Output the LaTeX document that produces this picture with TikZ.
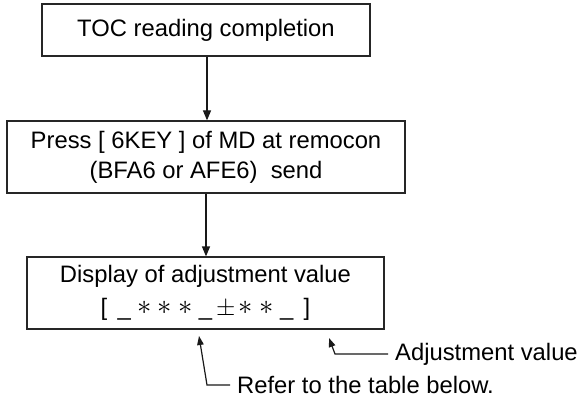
\documentclass[tikz,border=0pt]{standalone}
\usepackage{fontspec}
\usepackage{graphicx}
\setmainfont{Liberation Sans}
\usetikzlibrary{arrows.meta}
\tikzset{
  boxnode/.style={draw=black!85, line width=1.2pt, rectangle, align=center,
    font=\fontsize{23.8}{30}\selectfont, inner sep=0pt},
  flow/.style={draw=black!90, line width=1.2pt, -{Triangle[length=10pt,width=8pt]}},
  leader/.style={draw=black!90, line width=1.2pt, -{Triangle[length=9pt,width=6.5pt]}},
  lbl/.style={font=\fontsize{23.8}{28}\selectfont, inner sep=0pt, anchor=west}
}
\newcommand{\ch}[1]{\makebox[20.3pt][c]{#1}}
\newcommand{\myast}{\smash{\raisebox{1.5pt}{\scalebox{1.15}{$\ast$}}}}
\begin{document}
\begin{tikzpicture}[x=1pt,y=-1pt]
\useasboundingbox (0,0) rectangle (580,403);
\node[boxnode, minimum width=328pt, minimum height=52pt] (b1) at (206,30) {TOC reading completion};
\node[boxnode, minimum width=398pt, minimum height=72pt] (b2) at (206,157)
  {Press [ 6KEY ] of MD at remocon\\(BFA6 or AFE6)\ \ send};
\node[boxnode, minimum width=357pt, minimum height=72pt, font=\fontsize{23.8}{35}\selectfont] (b3) at (205.5,293)
  {Display of adjustment value\\[-2pt]\ch{[}\ch{\_}\ch{\myast}\ch{\myast}\ch{\myast}\ch{\_}\ch{$\pm$}\ch{\myast}\ch{\myast}\ch{\_}\ch{]}};
\draw[flow] (b1.south -| 207,0) -- (b2.north -| 207,0);
\draw[flow] (b2.south -| 206,0) -- (b3.north -| 206,0);
\node[lbl] (adj) at (395,354) {Adjustment value};
\node[lbl] (ref) at (237,385) {Refer to the table below.};
\coordinate (adjtip) at (329,338);
\coordinate (adjcorner) at (335,354);
\coordinate (reftip) at (199,336);
\coordinate (refcorner) at (207,385);
\draw[leader] ([xshift=-7pt]adj.west) -- (adjcorner) -- (adjtip);
\draw[leader] ([xshift=-7pt]ref.west) -- (refcorner) -- (reftip);
\end{tikzpicture}
\end{document}
